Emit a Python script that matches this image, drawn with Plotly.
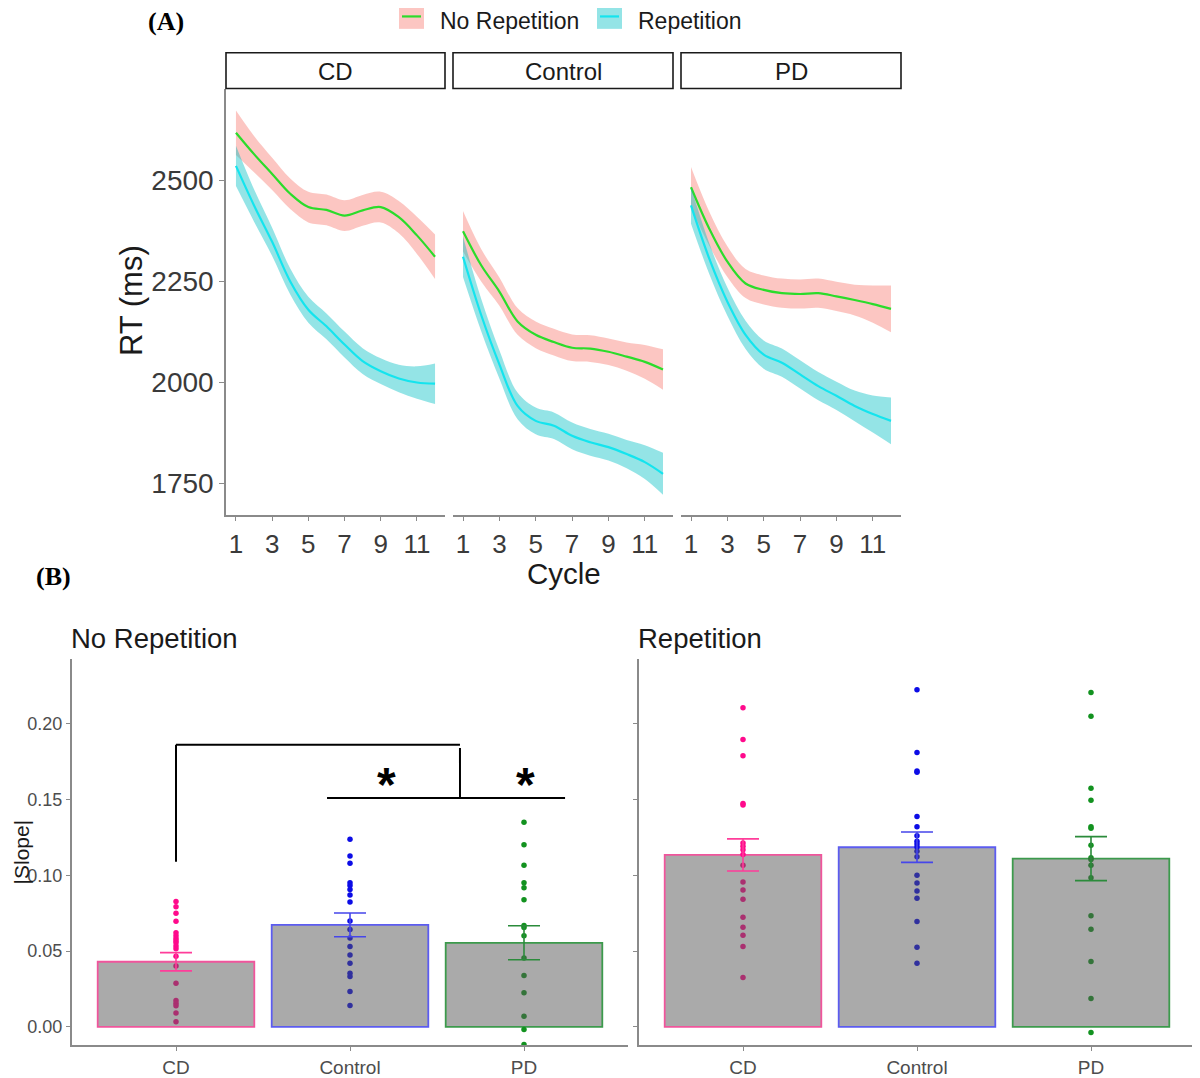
import plotly.graph_objects as go

# page body has an 8px margin, so the figure is sized/placed to land on reference pixels
OFF = 8
W, H = 1200 - OFF, 1078 - OFF

# ---------------- DATA ----------------
cycles = [1, 2, 3, 4, 5, 6, 7, 8, 9, 10, 11, 12]
groups = ["CD", "Control", "PD"]

rt_norep = {
    "CD":      [2617, 2564, 2515, 2466, 2433, 2426, 2412, 2425, 2433, 2408, 2363, 2310],
    "Control": [2373, 2289, 2224, 2150, 2117, 2099, 2085, 2083, 2075, 2063, 2050, 2031],
    "PD":      [2482, 2380, 2298, 2244, 2228, 2220, 2218, 2220, 2212, 2203, 2193, 2181],
}
rt_rep = {
    "CD":      [2535, 2437, 2347, 2249, 2179, 2138, 2093, 2052, 2027, 2009, 1999, 1996],
    "Control": [2310, 2166, 2044, 1941, 1904, 1892, 1867, 1851, 1839, 1822, 1802, 1773],
    "PD":      [2437, 2306, 2199, 2117, 2068, 2048, 2019, 1990, 1966, 1941, 1921, 1904],
}
se_norep = {
    "CD":      [55, 45, 40, 38, 38, 38, 38, 38, 38, 40, 46, 55],
    "Control": [50, 40, 35, 33, 33, 33, 33, 33, 33, 35, 42, 50],
    "PD":      [50, 42, 38, 36, 36, 36, 36, 36, 36, 38, 46, 58],
}
se_rep = {
    "CD":      [50, 40, 35, 32, 32, 32, 32, 32, 32, 34, 40, 50],
    "Control": [50, 40, 35, 33, 33, 33, 33, 33, 33, 35, 42, 52],
    "PD":      [45, 38, 35, 35, 35, 35, 35, 35, 35, 38, 46, 58],
}
rt_ticks = [1750, 2000, 2250, 2500]
cycle_ticks = [1, 3, 5, 7, 9, 11]

slope_mean_norep = [0.043, 0.0673, 0.0555]
slope_se_norep = [0.006, 0.0078, 0.0112]
slope_mean_rep = [0.1134, 0.1185, 0.111]
slope_se_rep = [0.0106, 0.0100, 0.0145]

dots_norep = {
    "CD": [0.0828, 0.0793, 0.075, 0.0697, 0.0621, 0.0601, 0.0584, 0.0568, 0.0555, 0.0533,
           0.0516, 0.0466, 0.0402, 0.0289, 0.0175, 0.0157, 0.014, 0.0092, 0.0035],
    "Control": [0.1237, 0.1128, 0.108, 0.0951, 0.0933, 0.0907, 0.087, 0.0824, 0.0699, 0.0643,
                0.0586, 0.0531, 0.0474, 0.042, 0.0354, 0.0332, 0.0234, 0.0142],
    "PD": [0.1349, 0.1202, 0.1067, 0.0951, 0.0918, 0.0839, 0.0669, 0.0656, 0.0601, 0.0455,
           0.0339, 0.0225, 0.007, -0.0017, -0.0116],
}
dots_rep = {
    "CD": [0.2105, 0.1895, 0.1788, 0.1473, 0.1464, 0.1213, 0.1191, 0.1169, 0.1137, 0.1067,
           0.0955, 0.0903, 0.0842, 0.0723, 0.0658, 0.0605, 0.0531, 0.0326],
    "Control": [0.2223, 0.181, 0.1687, 0.1679, 0.1388, 0.132, 0.1261, 0.1224, 0.1207, 0.1187,
                0.1158, 0.1123, 0.1001, 0.0949, 0.0896, 0.0848, 0.0695, 0.0525, 0.042],
    "PD": [0.2205, 0.2048, 0.1574, 0.1495, 0.132, 0.1311, 0.1198, 0.1115, 0.1104, 0.1067,
           0.0984, 0.0734, 0.0645, 0.0431, 0.0188, -0.0037],
}
slope_ticks = [0.00, 0.05, 0.10, 0.15, 0.20]
slope_ticktext = ["0.00", "0.05", "0.10", "0.15", "0.20"]

# significance annotation (category index units, slope units)
bracket_segments = [
    (0.0, 0.109, 0.0, 0.186),
    (0.0, 0.186, 1.632, 0.186),
    (1.632, 0.184, 1.632, 0.151),
    (0.868, 0.151, 2.236, 0.151),
]
star_positions = [(1.207, 0.160), (2.006, 0.160)]

# ---------------- STYLE ----------------
FONT = "Liberation Sans, Arial, sans-serif"
SERIF = "Liberation Serif, Times New Roman, serif"
AXIS_GRAY = "#8a8a8a"
TICK_GRAY = "#4d4d4d"
NOREP_LINE, NOREP_FILL = "#2bdc2b", "rgba(248,118,109,0.42)"
REP_LINE, REP_FILL = "#14e4ee", "rgba(0,191,196,0.42)"
BAR_FILL = (85, 85, 85, 0.5)
grp_dot = {"CD": (255, 10, 140), "Control": (12, 12, 230), "PD": (18, 146, 31)}
grp_edge = {"CD": "#f0559c", "Control": "#5c5cf0", "PD": "#3c9a4c"}
grp_err = {"CD": "#ff3d9a", "Control": "#4646ea", "PD": "#2b8b3b"}


def rgb(c):
    return "rgb(%d,%d,%d)" % c


def seen_through_bar(c):
    a = BAR_FILL[3]
    return tuple(int(round((1 - a) * c[k] + a * BAR_FILL[k])) for k in range(3))


def px(x):
    return (x - OFF) / W


def py(y):
    return 1 - (y - OFF) / H


fig = go.Figure()

# ---------------- PANEL A ----------------
facet_px = {"CD": (226, 445), "Control": (453, 673), "PD": (681, 901)}
A_top, A_bot = 90, 518
axis_suffix = {"CD": "", "Control": "2", "PD": "3"}

for g in groups:
    s = axis_suffix[g]
    xa, ya = "x" + s, "y" + s
    for vals, se, lc, fc, nm in [
        (rt_norep[g], se_norep[g], NOREP_LINE, NOREP_FILL, "No Repetition"),
        (rt_rep[g], se_rep[g], REP_LINE, REP_FILL, "Repetition"),
    ]:
        upper = [v + e for v, e in zip(vals, se)]
        lower = [v - e for v, e in zip(vals, se)]
        fig.add_trace(go.Scatter(x=cycles, y=upper, mode="lines",
                                 line=dict(width=0, shape="spline", smoothing=1.0),
                                 xaxis=xa, yaxis=ya, showlegend=False, hoverinfo="skip"))
        fig.add_trace(go.Scatter(x=cycles, y=lower, mode="lines", fill="tonexty",
                                 fillcolor=fc,
                                 line=dict(width=0, shape="spline", smoothing=1.0),
                                 xaxis=xa, yaxis=ya, showlegend=False, hoverinfo="skip"))
        fig.add_trace(go.Scatter(x=cycles, y=vals, mode="lines", name=nm,
                                 line=dict(width=2.2, color=lc, shape="spline", smoothing=1.0),
                                 xaxis=xa, yaxis=ya, showlegend=False))

A_yrange = [1672, 2724]
for g in groups:
    s = axis_suffix[g]
    x0, x1 = facet_px[g]
    fig.layout["xaxis" + s] = dict(
        domain=[px(x0), px(x1)], anchor="y" + s, range=[0.45, 12.55],
        tickvals=cycle_ticks, ticks="outside", ticklen=5, tickwidth=1.2,
        tickcolor=AXIS_GRAY, showline=True, linecolor=AXIS_GRAY, linewidth=1.5,
        showgrid=False, zeroline=False,
        tickfont=dict(family=FONT, size=26, color="#3a3a3a"),
    )
    first = g == "CD"
    fig.layout["yaxis" + s] = dict(
        domain=[py(A_bot), py(A_top)], anchor="x" + s, range=A_yrange,
        tickvals=rt_ticks if first else [], ticks="outside" if first else "",
        ticklen=5, tickwidth=1.2, tickcolor=AXIS_GRAY,
        showline=first, linecolor=AXIS_GRAY, linewidth=1.5,
        showticklabels=first, showgrid=False, zeroline=False,
        tickfont=dict(family=FONT, size=28, color="#3a3a3a"),
    )

shapes = []
annotations = []
# strips
for g in groups:
    x0, x1 = facet_px[g]
    shapes.append(dict(type="rect", xref="paper", yref="paper",
                       x0=px(x0), x1=px(x1), y0=py(89), y1=py(53),
                       line=dict(color="#1a1a1a", width=1.6), fillcolor="white"))
    annotations.append(dict(text=g, x=px((x0 + x1) / 2), y=py(72), xref="paper", yref="paper",
                            showarrow=False, xanchor="center", yanchor="middle",
                            font=dict(family=FONT, size=24, color="#1a1a1a")))

# legend (manual)
leg_items = [("No Repetition", NOREP_FILL, NOREP_LINE, 399, 438),
             ("Repetition", REP_FILL, REP_LINE, 597, 636)]
for nm, fc, lc, bx, tx in leg_items:
    shapes.append(dict(type="rect", xref="paper", yref="paper",
                       x0=px(bx), x1=px(bx + 25), y0=py(29), y1=py(4),
                       line=dict(width=0), fillcolor=fc))
    shapes.append(dict(type="line", xref="paper", yref="paper",
                       x0=px(bx + 3), x1=px(bx + 22), y0=py(16.5), y1=py(16.5),
                       line=dict(color=lc, width=2.2)))
    annotations.append(dict(text=nm, x=px(tx), y=py(21.5), xref="paper", yref="paper",
                            showarrow=False, xanchor="left", yanchor="middle",
                            font=dict(family=FONT, size=23, color="#1a1a1a")))

annotations += [
    dict(text="<b>(A)</b>", x=px(146), y=py(22), xref="paper", yref="paper", showarrow=False,
         xanchor="left", yanchor="middle", font=dict(family=SERIF, size=26, color="black")),
    dict(text="<b>(B)</b>", x=px(34), y=py(580), xref="paper", yref="paper", showarrow=False,
         xanchor="left", yanchor="middle", font=dict(family=SERIF, size=26, color="black")),
    dict(text="Cycle", x=px(564), y=py(577), xref="paper", yref="paper", showarrow=False,
         xanchor="center", yanchor="middle", font=dict(family=FONT, size=29.5, color="#1a1a1a")),
    dict(text="RT (ms)", x=px(131), y=py(303), xref="paper", yref="paper", showarrow=False,
         textangle=-90, xanchor="center", yanchor="middle",
         font=dict(family=FONT, size=31, color="#1a1a1a")),
]

# ---------------- PANEL B ----------------
B_top, B_bot = 663, 1052
B_yrange = [-0.012, 0.2428]
B_panels = [("4", 71.6, 628.4, dots_norep, slope_mean_norep, slope_se_norep, "No Repetition"),
            ("5", 638.6, 1195.4, dots_rep, slope_mean_rep, slope_se_rep, "Repetition")]

for s, x0, x1, dots, means, ses, title in B_panels:
    for i, g in enumerate(groups):
        fig.add_trace(go.Bar(x=[g], y=[means[i]], width=0.9,
                             marker=dict(color="rgba(%d,%d,%d,%.2f)" % BAR_FILL,
                                         line=dict(color=grp_edge[g], width=1.8)),
                             xaxis="x" + s, yaxis="y" + s, showlegend=False))
    for i, g in enumerate(groups):
        # points that fall inside the translucent bar look darkened in the reference
        cols = [rgb(seen_through_bar(grp_dot[g])) if 0 <= v <= means[i] else rgb(grp_dot[g])
                for v in dots[g]]
        fig.add_trace(go.Scatter(x=[g] * len(dots[g]), y=dots[g], mode="markers",
                                 marker=dict(size=5.5, color=cols),
                                 xaxis="x" + s, yaxis="y" + s, showlegend=False))
    for i, g in enumerate(groups):
        fig.add_trace(go.Scatter(x=[g], y=[means[i]], mode="markers",
                                 marker=dict(size=1, color="rgba(0,0,0,0)"),
                                 error_y=dict(type="data", array=[ses[i]], visible=True,
                                              color=grp_err[g], thickness=1.6, width=16),
                                 xaxis="x" + s, yaxis="y" + s, showlegend=False))
    fig.layout["xaxis" + s] = dict(
        domain=[px(x0), px(x1)], anchor="y" + s, type="category",
        categoryorder="array", categoryarray=groups, range=[-0.6, 2.6],
        ticks="outside", ticklen=4, tickwidth=1.2, tickcolor=AXIS_GRAY,
        showline=True, linecolor=AXIS_GRAY, linewidth=1.5, showgrid=False,
        tickfont=dict(family=FONT, size=19, color=TICK_GRAY),
    )
    fig.layout["yaxis" + s] = dict(
        domain=[py(B_bot), py(B_top)], anchor="x" + s, range=B_yrange,
        tickvals=slope_ticks, ticktext=slope_ticktext,
        showticklabels=(s == "4"),
        ticks="outside", ticklen=4, tickwidth=1.2, tickcolor=AXIS_GRAY,
        showline=True, linecolor=AXIS_GRAY, linewidth=1.5, showgrid=False, zeroline=False,
        tickfont=dict(family=FONT, size=18, color=TICK_GRAY),
    )
    annotations.append(dict(text=title, x=px(x0 - 2.5), y=py(643), xref="paper", yref="paper",
                            showarrow=False, xanchor="left", yanchor="middle",
                            font=dict(family=FONT, size=27.5, color="#1a1a1a")))

annotations.append(dict(text="|Slope|", x=px(21), y=py(858), xref="paper", yref="paper",
                        showarrow=False, textangle=-90, xanchor="center", yanchor="middle",
                        font=dict(family=FONT, size=21, color="#1a1a1a")))

for (xa0, ya0, xa1, ya1) in bracket_segments:
    shapes.append(dict(type="line", xref="x4", yref="y4", x0=xa0, y0=ya0, x1=xa1, y1=ya1,
                       line=dict(color="black", width=2)))
for (sx, sy) in star_positions:
    annotations.append(dict(text="<b>*</b>", x=sx, y=sy, xref="x4", yref="y4", showarrow=False,
                            xanchor="center", yanchor="middle",
                            font=dict(family=FONT, size=48, color="black")))

fig.update_layout(
    width=W, height=H, autosize=False,
    margin=dict(l=0, r=0, t=0, b=0),
    paper_bgcolor="white", plot_bgcolor="white",
    shapes=shapes, annotations=annotations, showlegend=False,
    barmode="overlay",
)

fig.write_html("out.html")
